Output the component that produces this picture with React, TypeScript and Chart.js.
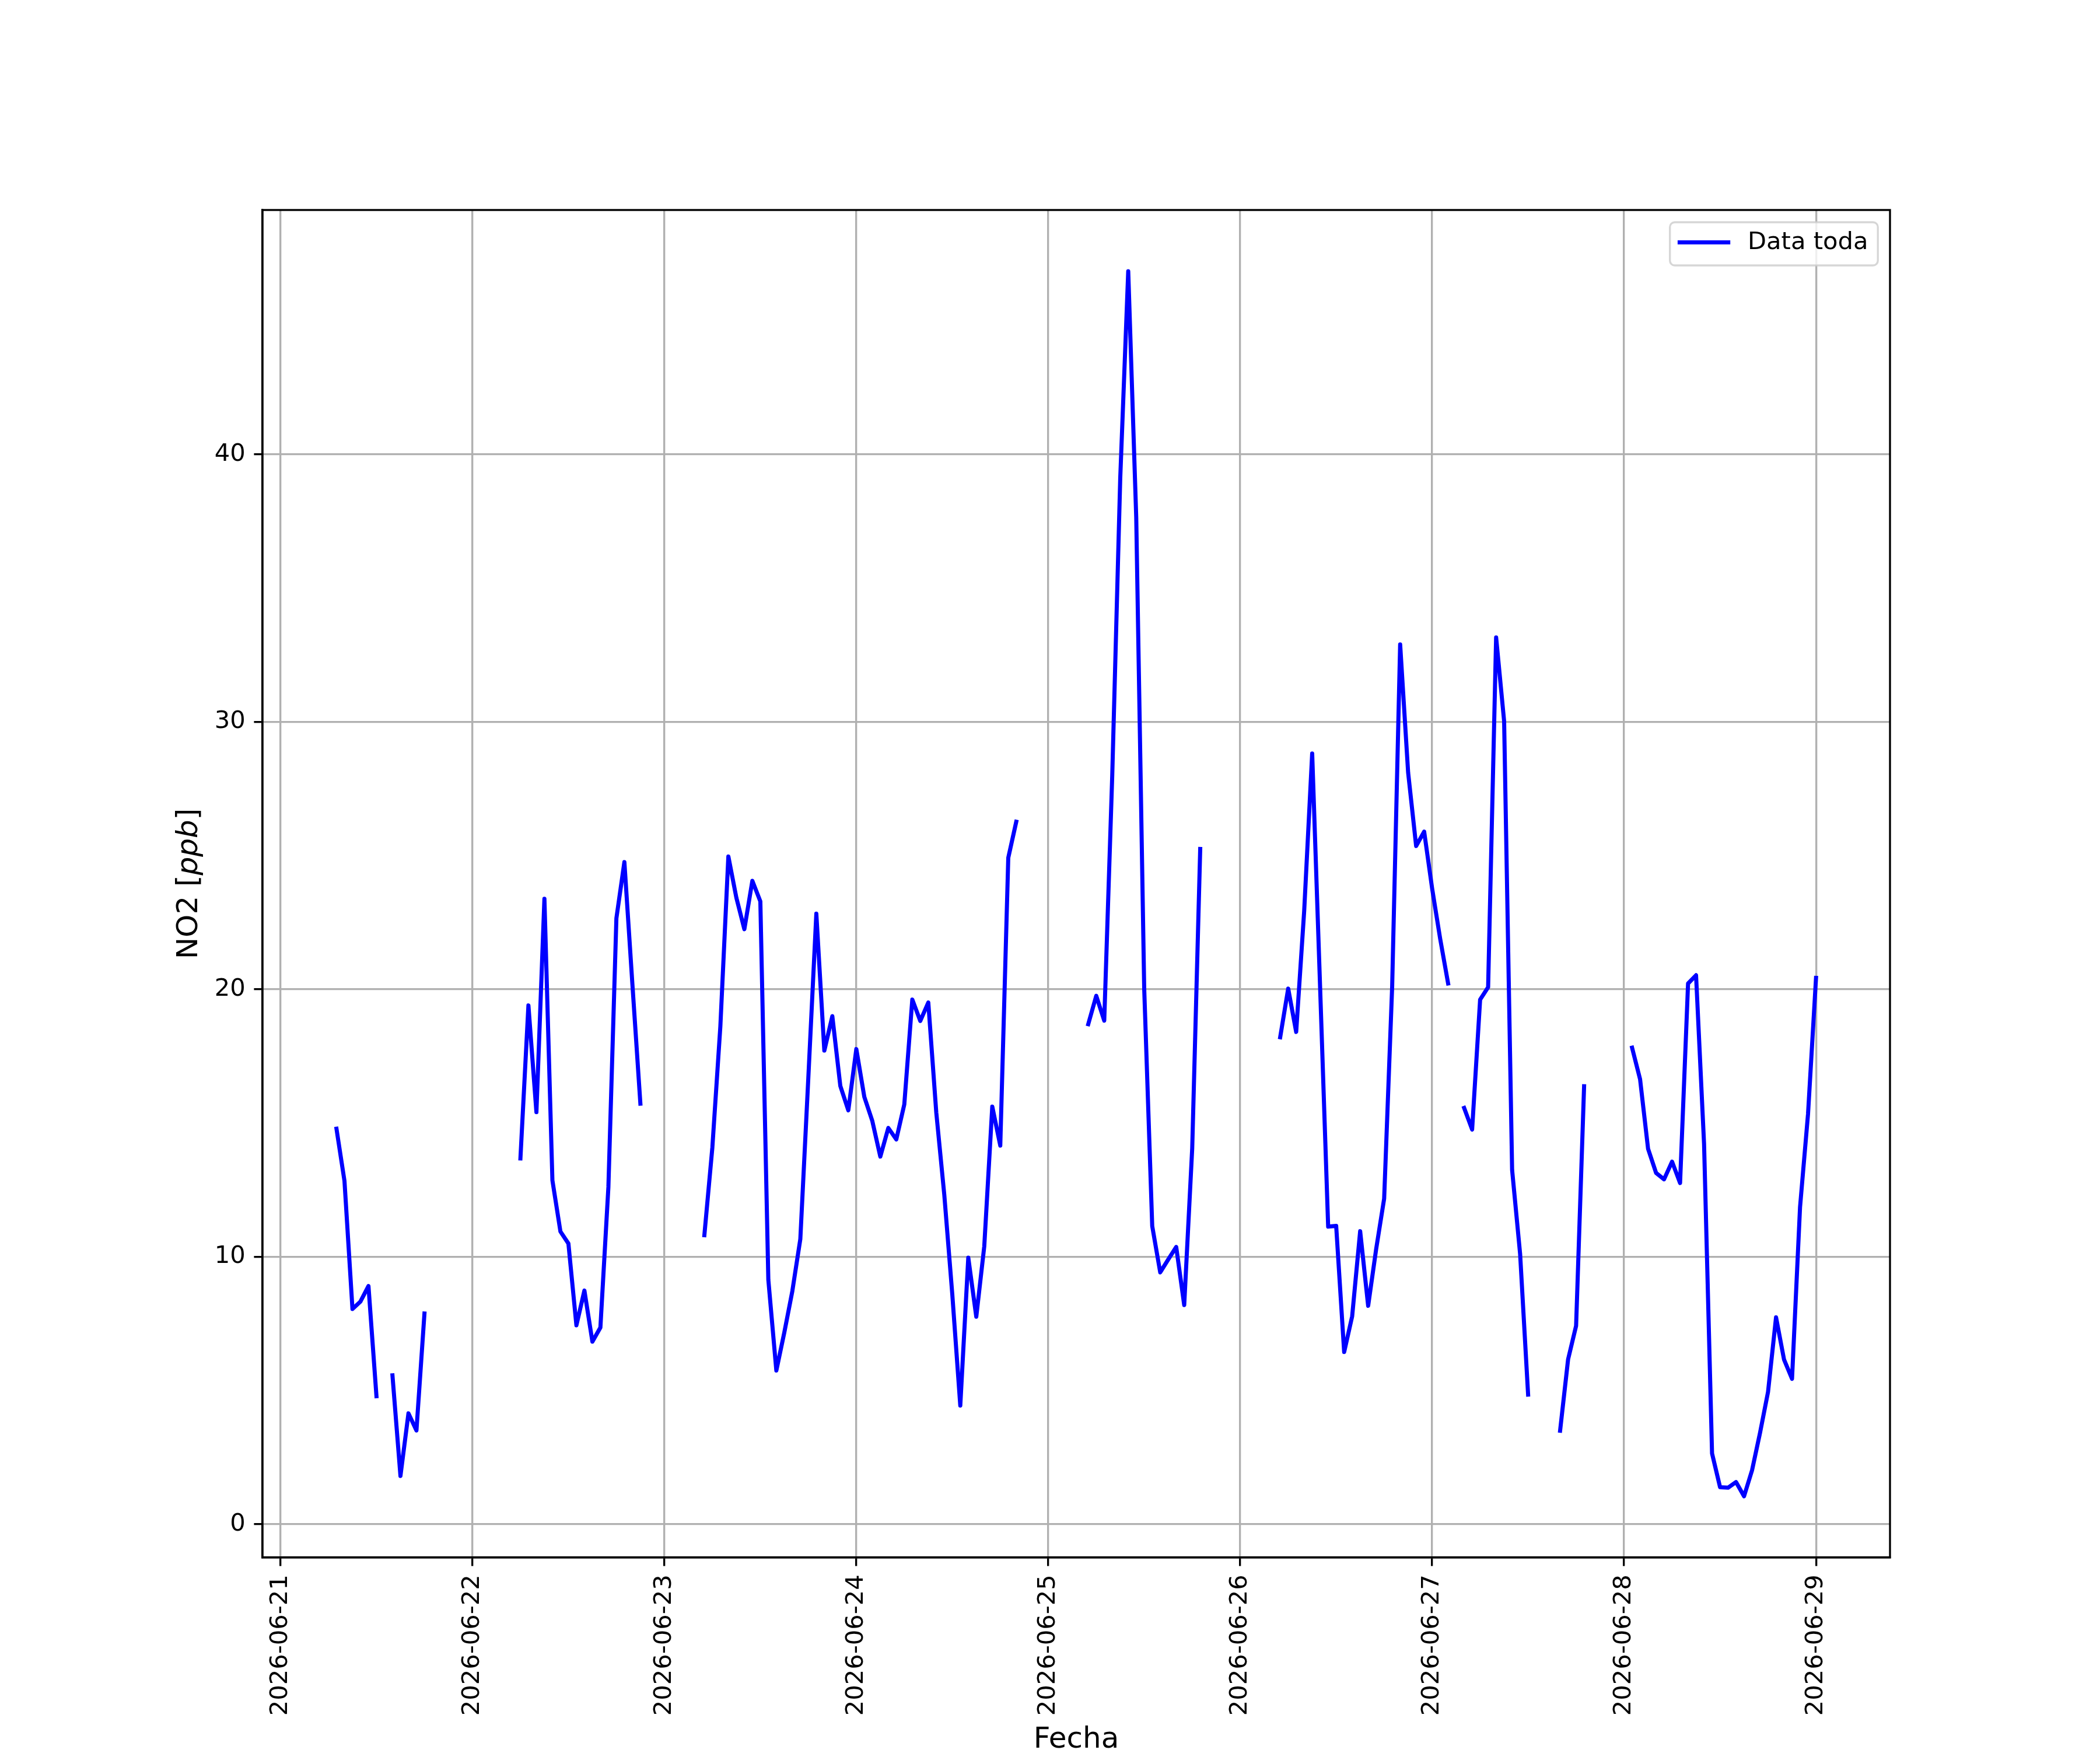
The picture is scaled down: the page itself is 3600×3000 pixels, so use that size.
import React, { useEffect, useRef } from "react";
import { Chart, registerables } from "chart.js";

Chart.register(...registerables);

// ---- data (hours since 2026-06-21 00:00; null = gap in the record) ----
const hours: number[] = [
  7, 8, 9, 10, 11, 12, 13,
  14, 15, 16, 17, 18, 19,
  30, 31, 32, 33, 34, 35, 36, 37, 38, 39, 40, 41, 42, 43, 44, 45, 46,
  53, 54, 55, 56, 57, 58, 59, 60, 61, 62, 63, 64, 65, 66, 67, 68, 69, 70, 71, 72,
  73, 74, 75, 76, 77, 78, 79, 80, 81, 82, 83, 84, 85, 86, 87, 88, 89, 90, 91, 92, 93,
  101, 102, 103, 104, 105, 106, 107, 108, 109, 110, 111, 112, 113, 114, 115, 116,
  125, 126, 127, 128, 129, 130, 131, 132, 133, 134, 135, 136, 137, 138, 139, 140,
  141, 142, 143, 144, 145, 146, 147,
  148, 149, 150, 151, 152, 153, 154, 155, 156, 157,
  160, 161, 162, 163, 164,
  169, 170, 171, 172, 173, 174, 175, 176, 177, 178, 179, 180, 181, 182, 183, 184,
  185, 186, 187, 188, 189, 190, 191, 192,
];

const no2: (number | null)[] = [
  14.79, 12.84, 8.05, 8.33, 8.91, 4.79, null,
  5.57, 1.81, 4.15, 3.51, 7.88, null,
  13.68, 19.4, 15.41, 23.39, 12.86, 10.95, 10.5, 7.44, 8.74, 6.83, 7.36, 12.61, 22.66, 24.76, 20.2, 15.73, null,
  10.81, 14.09, 18.62, 24.97, 23.43, 22.25, 24.06, 23.29, 9.14, 5.75, 7.18, 8.72, 10.67, 16.7, 22.83, 17.71, 19.0, 16.39, 15.48, 17.77,
  15.98, 15.08, 13.75, 14.82, 14.39, 15.7, 19.62, 18.82, 19.51, 15.39, 12.32, 8.6, 4.44, 9.97, 7.76, 10.4, 15.62, 14.16, 24.92, 26.27, null,
  18.7, 19.76, 18.83, 28.0, 39.11, 46.85, 37.65, 20.0, 11.15, 9.42, 9.9, 10.37, 8.2, 14.06, 25.25, null,
  18.21, 20.03, 18.41, 22.93, 28.82, 20.0, 11.13, 11.16, 6.44, 7.78, 10.96, 8.17, 10.29, 12.18, 20.1, 32.9,
  28.1, 25.36, 25.9, 23.77, 21.9, 20.22, null,
  15.57, 14.76, 19.62, 20.08, 33.16, 30.03, 13.25, 10.11, 4.85, null,
  3.5, 6.17, 7.42, 16.38, null,
  17.82, 16.64, 14.04, 13.14, 12.9, 13.56, 12.76, 20.22, 20.53, 14.23, 2.65, 1.39, 1.37, 1.58, 1.05, 2.02,
  3.42, 4.95, 7.74, 6.16, 5.44, 11.85, 15.34, 20.43,
];

const xTickHours: number[] = [0, 24, 48, 72, 96, 120, 144, 168, 192];
const xTickLabels: string[] = [
  "2026-06-21", "2026-06-22", "2026-06-23", "2026-06-24", "2026-06-25",
  "2026-06-26", "2026-06-27", "2026-06-28", "2026-06-29",
];
const yTicks: number[] = [0, 10, 20, 30, 40];
const seriesLabel = "Data toda";
const xTitle = "Fecha";
const yTitleParts: { text: string; italic: boolean }[] = [
  { text: "NO2 [", italic: false },
  { text: "ppb", italic: true },
  { text: "]", italic: false },
];

// ---- styling ----
const W = 3600;
const H = 3000;
const FONT = '"DejaVu Sans", "Noto Sans", sans-serif';
const TICK_FS = 41.67;
const LABEL_FS = 50;
const LW = 3.33;
const BLUE = "#0000ff";
const DATA_LW = 7;

const decorPlugin = {
  id: "decor",
  afterDatasetsDraw(chart: any) {
    const { ctx, chartArea: a } = chart;
    ctx.save();
    // spines (all four, above the data)
    ctx.strokeStyle = "#000";
    ctx.lineWidth = LW;
    ctx.strokeRect(a.left, a.top, a.right - a.left, a.bottom - a.top);

    // legend, upper right
    ctx.font = `${TICK_FS}px ${FONT}`;
    const label = chart.data.datasets[0].label as string;
    const tw = ctx.measureText(label).width;
    const pad = 16.7;
    const handle = 83.3;
    const gap = 33.3;
    const boxW = pad + handle + gap + tw + pad;
    const boxH = 74;
    const boxR = a.right - 20.8;
    const boxL = boxR - boxW;
    const boxT = a.top + 21;
    ctx.beginPath();
    if ((ctx as any).roundRect) {
      (ctx as any).roundRect(boxL, boxT, boxW, boxH, 8.3);
    } else {
      ctx.rect(boxL, boxT, boxW, boxH);
    }
    ctx.fillStyle = "rgba(255,255,255,0.8)";
    ctx.fill();
    ctx.strokeStyle = "rgba(204,204,204,0.8)";
    ctx.lineWidth = LW;
    ctx.stroke();
    const ly = boxT + 34.5;
    ctx.beginPath();
    ctx.moveTo(boxL + pad, ly);
    ctx.lineTo(boxL + pad + handle, ly);
    ctx.strokeStyle = chart.data.datasets[0].borderColor;
    ctx.lineWidth = chart.data.datasets[0].borderWidth;
    ctx.lineCap = "square";
    ctx.stroke();
    ctx.fillStyle = "#000";
    ctx.textAlign = "left";
    ctx.textBaseline = "middle";
    ctx.fillText(label, boxL + pad + handle + gap, ly + 1);
    ctx.restore();
  },
  afterDraw(chart: any) {
    const { ctx, chartArea: a } = chart;
    ctx.save();
    ctx.fillStyle = "#000";
    // x title
    ctx.font = `${LABEL_FS}px ${FONT}`;
    ctx.textAlign = "center";
    ctx.textBaseline = "alphabetic";
    ctx.fillText(xTitle, (a.left + a.right) / 2, 2996);
    // y title with italic part
    const fontFor = (it: boolean) => `${it ? "italic " : ""}${LABEL_FS}px ${FONT}`;
    let total = 0;
    const widths = yTitleParts.map((p) => {
      ctx.font = fontFor(p.italic);
      const w = ctx.measureText(p.text).width;
      total += w;
      return w;
    });
    ctx.translate(338, (a.top + a.bottom) / 2);
    ctx.rotate(-Math.PI / 2);
    ctx.textAlign = "left";
    let x = -total / 2;
    yTitleParts.forEach((p, i) => {
      ctx.font = fontFor(p.italic);
      ctx.fillText(p.text, x, 0);
      x += widths[i];
    });
    ctx.restore();
  },
};

export default function App() {
  const ref = useRef<HTMLCanvasElement | null>(null);

  useEffect(() => {
    if (!ref.current) return;
    const points = hours.map((h, i) => ({ x: h, y: no2[i] }));
    const chart = new Chart(ref.current, {
      type: "line",
      data: {
        datasets: [
          {
            label: seriesLabel,
            data: points as any,
            borderColor: BLUE,
            backgroundColor: BLUE,
            borderWidth: DATA_LW,
            pointRadius: 0,
            pointHoverRadius: 0,
            tension: 0,
            spanGaps: false,
            fill: false,
            borderJoinStyle: "round",
            borderCapStyle: "square",
          },
        ],
      },
      options: {
        animation: false,
        responsive: false,
        maintainAspectRatio: false,
        devicePixelRatio: 1,
        events: [],
        layout: { padding: { top: 360, right: 360, left: 0, bottom: 0 } },
        plugins: {
          legend: { display: false },
          tooltip: { enabled: false },
          title: { display: false },
        },
        scales: {
          x: {
            type: "linear",
            min: -2.25,
            max: 201.25,
            offset: false,
            afterBuildTicks: (s: any) => {
              s.ticks = xTickHours.map((v) => ({ value: v }));
            },
            afterFit: (s: any) => {
              s.height = 330;
            },
            ticks: {
              autoSkip: false,
              maxRotation: 90,
              minRotation: 90,
              padding: 14.6,
              color: "#000",
              font: { family: FONT, size: TICK_FS },
              callback: (v: any) => {
                const i = xTickHours.indexOf(Number(v));
                return i >= 0 ? xTickLabels[i] : "";
              },
            },
            grid: {
              color: "#b0b0b0",
              lineWidth: LW,
              drawTicks: true,
              tickLength: 14.6,
              tickColor: "#000",
              tickWidth: LW,
              offset: false,
            },
            border: { display: true, color: "#000", width: LW },
          },
          y: {
            type: "linear",
            min: -1.24,
            max: 49.14,
            afterBuildTicks: (s: any) => {
              s.ticks = yTicks.map((v) => ({ value: v }));
            },
            afterFit: (s: any) => {
              s.width = 450;
            },
            ticks: {
              padding: 14.6,
              color: "#000",
              font: { family: FONT, size: TICK_FS },
              callback: (v: any) => String(v),
            },
            grid: {
              color: "#b0b0b0",
              lineWidth: LW,
              drawTicks: true,
              tickLength: 14.6,
              tickColor: "#000",
              tickWidth: LW,
            },
            border: { display: true, color: "#000", width: LW },
          },
        },
      } as any,
      plugins: [decorPlugin],
    });
    return () => chart.destroy();
  }, []);

  return (
    <div
      style={{
        position: "absolute",
        left: 0,
        top: 0,
        width: W,
        height: H,
        background: "#fff",
      }}
    >
      <canvas ref={ref} width={W} height={H} style={{ width: W, height: H, display: "block" }} />
    </div>
  );
}
